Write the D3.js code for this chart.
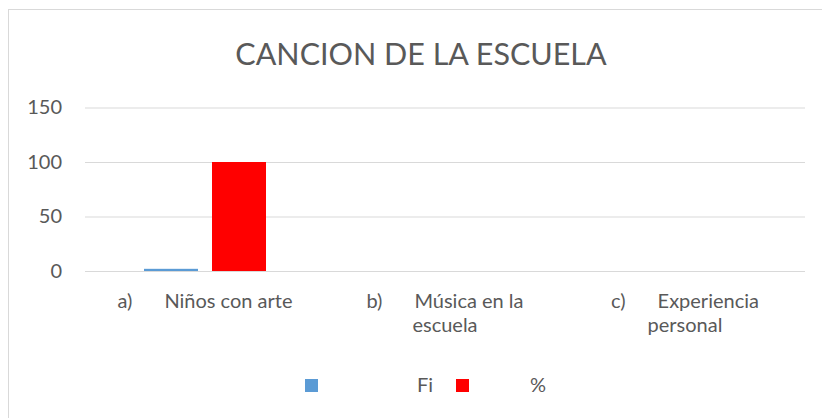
<!doctype html>
<html lang="es">
<head>
<meta charset="utf-8">
<title>CANCION DE LA ESCUELA</title>
<script src="https://cdn.jsdelivr.net/npm/d3@7/dist/d3.min.js"></script>
<style>
  html, body { margin: 0; padding: 0; background: #fff; }
  text { font-family: Lato, "Open Sans", sans-serif; fill: #595959; }
</style>
</head>
<body>
<svg id="chart" width="822" height="418"></svg>
<script>
// data
var categories = ["a", "b", "c"];
var catPrefix = ["a)", "b)", "c)"];
var catLines = [["Niños con arte"], ["Música en la", "escuela"], ["Experiencia", "personal"]];
var seriesNames = ["Fi", "%"];
var fiValues = [2, 0, 0];
var pctValues = [100, 0, 0];
var yTicks = [0, 50, 100, 150];
var colors = ["#5B9BD5", "#FF0000"];

var svg = d3.select("#chart");
var plotLeft = 85, plotRight = 805, plotTop = 107.5, plotBottom = 271;

// outer border
svg.append("rect")
  .attr("x", 8.5).attr("y", 9.5)
  .attr("width", 820).attr("height", 420)
  .attr("fill", "#fff").attr("stroke", "#D9D9D9");

svg.append("text")
  .attr("x", 421).attr("y", 65)
  .attr("text-anchor", "middle")
  .style("font-size", "30.5px")
  .text("CANCION DE LA ESCUELA");

var x = d3.scaleBand().domain(categories).range([plotLeft, plotRight]);
var y = d3.scaleLinear().domain([0, 150]).range([plotBottom, plotTop]);

// gridlines + tick labels
var yAxis = d3.axisLeft(y).tickValues(yTicks).tickSize(-(plotRight - plotLeft)).tickPadding(23);
var gy = svg.append("g").attr("transform", "translate(" + plotLeft + ",0)").call(yAxis);
gy.select(".domain").remove();
gy.selectAll(".tick line").attr("stroke", "#D9D9D9");
gy.selectAll(".tick text").style("font-size", "20px").attr("fill", "#595959")
  .style("font-family", "Lato, sans-serif");

// bars
var series = [fiValues, pctValues];
var barW = 54, gap = 14;
series.forEach(function(vals, s) {
  svg.append("g").selectAll("rect")
    .data(vals)
    .join("rect")
    .attr("x", function(d, i) {
      var c = x(categories[i]) + x.bandwidth() / 2;
      return s === 0 ? c - gap / 2 - barW : c + gap / 2;
    })
    .attr("y", function(d) { return y(d); })
    .attr("width", barW)
    .attr("height", function(d) { return y(0) - y(d); })
    .attr("fill", colors[s]);
});

// category labels, each line centred on the band
categories.forEach(function(c, i) {
  var cx = x(c) + x.bandwidth() / 2;
  catLines[i].forEach(function(line, j) {
    var t = svg.append("text")
      .attr("x", cx).attr("y", 308 + j * 24)
      .attr("text-anchor", "middle")
      .style("font-size", "20px");
    if (j === 0) {
      t.append("tspan").text(catPrefix[i]);
      t.append("tspan").attr("dx", 32).text(line);
    } else {
      t.text(line);
    }
  });
});

// legend
var legX = [305, 456], legTextX = [417, 530];
seriesNames.forEach(function(n, i) {
  svg.append("rect")
    .attr("x", legX[i]).attr("y", 379)
    .attr("width", 13).attr("height", 13)
    .attr("fill", colors[i]);
  svg.append("text")
    .attr("x", legTextX[i]).attr("y", 392)
    .style("font-size", "20px")
    .text(n);
});
</script>
</body>
</html>
